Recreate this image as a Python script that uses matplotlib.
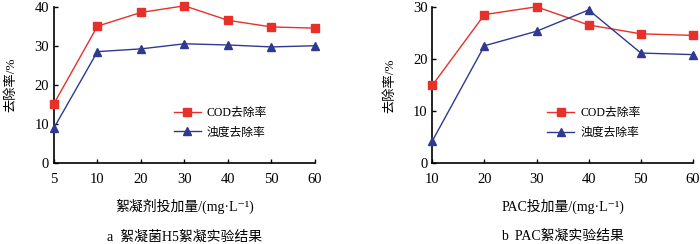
import matplotlib.pyplot as plt

plt.rcParams['font.family'] = ['Liberation Serif', 'Noto Sans CJK SC', 'DejaVu Serif']

# 图a 絮凝菌H5
dose_a = ['5', '10', '20', '30', '40', '50', '60']
cod_a = [15.2, 35.0, 38.5, 40.2, 36.5, 34.8, 34.5]
turb_a = [9.0, 28.5, 29.2, 30.5, 30.2, 29.7, 30.0]

# 图b PAC
dose_b = ['10', '20', '30', '40', '50', '60']
cod_b = [15.0, 28.6, 30.1, 26.6, 24.9, 24.6]
turb_b = [4.3, 22.6, 25.4, 29.5, 21.2, 20.9]

red = '#e8302a'
blue = '#2f3a8f'

fig = plt.figure(figsize=(7, 2.44), dpi=100)
ax1 = fig.add_axes([0.077, 0.331, 0.373, 0.642])
ax2 = fig.add_axes([0.6176, 0.331, 0.3724, 0.639])


def draw(ax, labels, cod, turb, ymax, xlabel, caption, legx):
    x = range(len(labels))
    ax.plot(x, cod, color=red, marker='s', markersize=5.5, lw=1.0,
            label='COD去除率', clip_on=False, zorder=3)
    ax.plot(x, turb, color=blue, marker='^', markersize=6, lw=1.0,
            label='浊度去除率', clip_on=False, zorder=3)
    ax.set_xlim(0, len(labels) - 1)
    ax.set_ylim(0, ymax)
    ax.set_yticks(range(0, ymax + 1, 10))
    ax.set_xticks(list(x))
    ax.set_xticklabels(labels)
    for s in ['top', 'right']:
        ax.spines[s].set_visible(False)
    for s in ['left', 'bottom']:
        ax.spines[s].set_linewidth(1.2)
    ax.tick_params(direction='in', length=3, width=1, labelsize=10.5)
    ax.tick_params(axis='x', pad=7)
    ax.set_ylabel('去除率/%', fontsize=9.5, labelpad=12)
    ax.set_xlabel(xlabel, fontsize=10, labelpad=9)
    ax.text(0.5, -0.47, caption, transform=ax.transAxes, ha='center',
            va='center', fontsize=10)
    ax.legend(loc='upper left', bbox_to_anchor=(legx, 0.428), frameon=False,
              fontsize=8.5, handlelength=2.3, labelspacing=0.65, handletextpad=0.5)


draw(ax1, dose_a, cod_a, turb_a, 40, '絮凝剂投加量/(mg·L⁻¹)', 'a  絮凝菌H5絮凝实验结果', 0.418)
draw(ax2, dose_b, cod_b, turb_b, 30, 'PAC投加量/(mg·L⁻¹)', 'b  PAC絮凝实验结果', 0.40)

fig.savefig('out.png', dpi=100)
